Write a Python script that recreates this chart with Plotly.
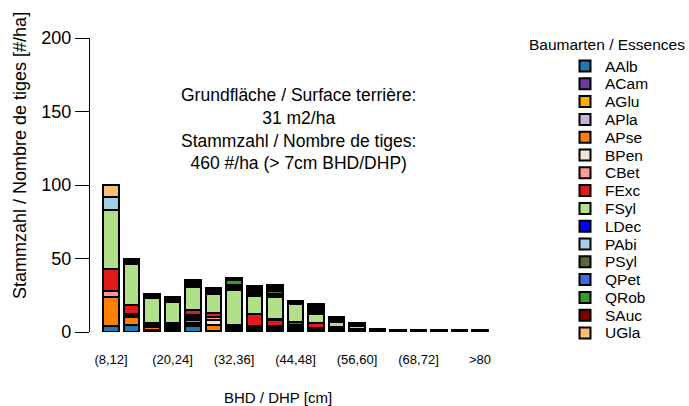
import plotly.graph_objects as go

categories = ["(8,12]", "(12,16]", "(16,20]", "(20,24]", "(24,28]", "(28,32]", "(32,36]",
              "(36,40]", "(40,44]", "(44,48]", "(48,52]", "(52,56]", "(56,60]", "(60,64]",
              "(64,68]", "(68,72]", "(72,76]", "(76,80]", ">80"]
tick_labels = ["(8,12]", "(20,24]", "(32,36]", "(44,48]", "(56,60]", "(68,72]", ">80"]

species = ["AAlb", "ACam", "AGlu", "APla", "APse", "BPen", "CBet", "FExc",
           "FSyl", "LDec", "PAbi", "PSyl", "QPet", "QRob", "SAuc", "UGla"]
colors = ["#1F78B4", "#6A3D9A", "#FFAD00", "#CAB2D6", "#FF7F00", "#F2E5D3", "#FB9A99", "#E31A1C",
          "#B2DF8A", "#0000FF", "#A6CEE3", "#556B2F", "#4169E1", "#33A02C", "#800000", "#FDBF6F"]

AAlb = [4, 4.5, 1, 1.2, 3.8, 0, 1, 1, 1.2, 1.2, 0.8, 0.8, 0.5, 0, 0, 0, 0, 0, 0]
ACam = [0, 0, 0, 0.5, 0.8, 0.5, 0.5, 0.5, 0.6, 1, 0.5, 0.5, 0, 0, 0, 0, 0, 0, 0]
AGlu = [0, 0, 0.5, 0, 0.8, 0, 0, 0, 0, 0.5, 0, 0, 0, 0, 0, 0, 0, 0, 0]
APla = [0, 0, 0, 0, 0.6, 0, 0, 0, 0, 0, 0, 0, 0, 0, 0, 0, 0, 0, 0]
APse = [20, 6, 2, 1.5, 2.5, 4, 0.6, 1, 1.2, 0.8, 0.6, 0.6, 0.5, 0, 0, 0, 0, 0, 0]
BPen = [0, 1, 1, 0.8, 1.5, 3.5, 0, 0.5, 0, 0, 0, 0, 0, 0, 0, 0, 0, 0, 0]
CBet = [4, 1, 0.5, 0.6, 1.8, 2.5, 0.8, 0.8, 1, 1, 0.6, 0.6, 0.5, 0, 0, 0, 0, 0, 0]
FExc = [15, 6, 1, 1.5, 3, 2.5, 1.5, 8.4, 4.5, 2.5, 3.9, 1.2, 0.8, 0.7, 0.5, 0.5, 0.5, 0.5, 0.5]
FSyl = [40, 28, 17.5, 14.5, 16, 13, 24, 12.5, 15.5, 12, 5.8, 3.2, 2, 0.9, 1.0, 1.0, 1.0, 1.0, 1.0]
LDec = [0, 0, 0, 0, 0.5, 0, 0.5, 0.5, 0.6, 0, 0.5, 0, 0, 0, 0, 0, 0, 0, 0]
PAbi = [9, 1, 0.8, 0.8, 1, 1, 1, 1.5, 1.5, 0.6, 1.5, 0.8, 0.8, 0.6, 0, 0, 0, 0, 0]
PSyl = [0, 0, 0.5, 0.5, 0.8, 1, 0.8, 1.2, 1.5, 0.5, 1.2, 0.6, 0.5, 0, 0, 0, 0, 0, 0]
QPet = [0, 0, 0, 0, 0.5, 0.5, 1, 1.2, 1.5, 0, 1.3, 0.5, 0, 0, 0, 0, 0, 0, 0]
QRob = [0, 1, 0.7, 1, 1, 1, 3.5, 1, 1.2, 0.6, 1, 0.6, 0.5, 0, 0, 0, 0, 0, 0]
SAuc = [0, 0, 0, 0.6, 0.5, 0.5, 0.8, 0.8, 0.8, 0.5, 0.8, 0.5, 0, 0, 0, 0, 0, 0, 0]
UGla = [8, 0.8, 0, 0.5, 0, 0, 0.5, 0.6, 0.6, 0, 0.6, 0, 0, 0, 0, 0, 0, 0, 0]

values = [AAlb, ACam, AGlu, APla, APse, BPen, CBet, FExc,
          FSyl, LDec, PAbi, PSyl, QPet, QRob, SAuc, UGla]

info_text = ("Grundfläche / Surface terrière:<br>31 m2/ha<br>"
             "Stammzahl / Nombre de tiges:<br>460 #/ha (> 7cm BHD/DHP)")

W, H = 689, 406
L, R, T, B = 90, 500, 38, 332
FONT = "Liberation Sans, Arial, sans-serif"


def px_x(px):
    return (px - L) / (R - L)


def px_y(py):
    return (B - py) / (B - T)


def note(text, x, y, size, xanchor="center", **kw):
    return dict(text=text, x=px_x(x), y=px_y(y), xref="paper", yref="paper",
                xanchor=xanchor, yanchor="middle", showarrow=False,
                font=dict(size=size, color="black", family=FONT), **kw)


fig = go.Figure()
for name, col, vals in zip(species, colors, values):
    fig.add_trace(go.Bar(
        x=categories, y=vals, name=name,
        marker=dict(color=col, line=dict(color="black", width=2.1)),
        showlegend=False,
    ))

annotations = [
    note("Stammzahl / Nombre de tiges [#/ha]", 20, 156, 18, textangle=-90),
    note("BHD / DHP [cm]", 278, 397, 15),
    note(info_text, 298, 128.5, 17.5, align="center"),
    note("Baumarten / Essences", 607, 44, 15.5),
]
shapes = []
for i, (name, col) in enumerate(zip(species, colors)):
    cy = 66 + 17.8 * i
    shapes.append(dict(type="rect", xref="paper", yref="paper",
                       x0=px_x(579.5), x1=px_x(590.5), y0=px_y(cy - 5.5), y1=px_y(cy + 5.5),
                       fillcolor=col, line=dict(color="black", width=2)))
    annotations.append(note(name, 603, cy, 15.5, xanchor="left"))

fig.update_layout(
    width=W, height=H, autosize=False,
    margin=dict(l=L, r=W - R, t=T, b=H - B, pad=0),
    barmode="stack", bargap=0.25,
    plot_bgcolor="white", paper_bgcolor="white",
    font=dict(family=FONT, color="black"),
    xaxis=dict(type="category", categoryorder="array", categoryarray=categories,
               range=[-21 / 20.5, (R - 111) / 20.5],
               tickmode="array", tickvals=tick_labels, ticktext=tick_labels,
               ticks="", showline=False, showgrid=False, zeroline=False,
               tickfont=dict(size=13, color="black"), ticklabelstandoff=18),
    yaxis=dict(range=[0, 200], tickmode="array", tickvals=[0, 50, 100, 150, 200],
               showline=True, linecolor="black", linewidth=1.3,
               ticks="outside", ticklen=14, tickwidth=1.3, tickcolor="black",
               showgrid=False, zeroline=False, tickfont=dict(size=18, color="black")),
    annotations=annotations, shapes=shapes,
)

fig.write_html("out.html", config={"displayModeBar": False},
               post_script="document.body.style.margin='0px';")
